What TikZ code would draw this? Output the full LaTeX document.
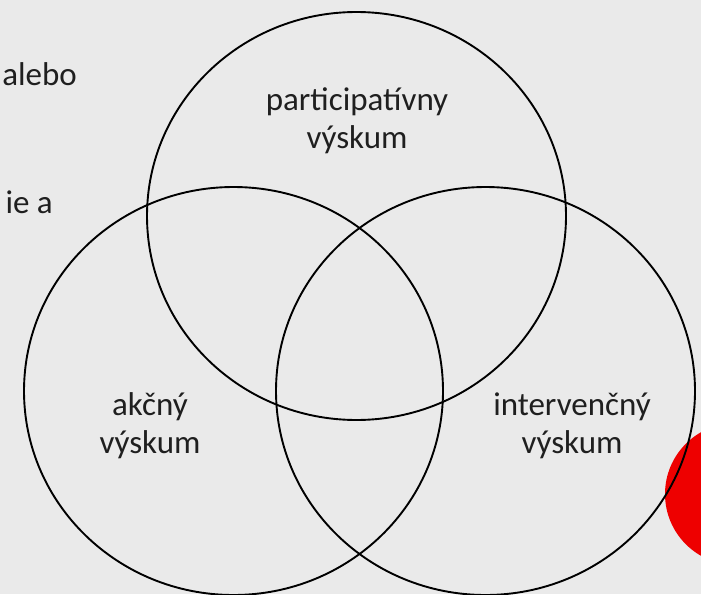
\documentclass[tikz,border=0pt]{standalone}
\usepackage{fontspec}
\setmainfont{Carlito}
\usetikzlibrary{shapes.geometric}
\definecolor{slidered}{RGB}{238,0,0}
\definecolor{concrete}{RGB}{234,234,234}
\begin{document}
\begin{tikzpicture}[x=1pt, y=-1pt,
    venn/.style={ellipse, draw=black, line width=1.9pt, minimum width=419pt, minimum height=408pt, inner sep=0pt},
    lbl/.style={font=\fontsize{33}{38}\selectfont, text=black!88, align=center, inner sep=0pt, anchor=base}]
    \useasboundingbox (0,0) rectangle (701,594);
    \fill[concrete] (0,0) rectangle (701,594);
    \clip (0,0) rectangle (701,594);
    % text of the slide, cut off at the left edge
    \node[lbl, anchor=base east] (alebo) at (77,85) {alebo};
    \node[lbl, anchor=base east] (iea) at (53,213) {ie a};
    % red spot behind the right circle
    \node[circle, fill=slidered, minimum size=142pt, inner sep=0pt] (spot) at (736,494) {};
    % the three circles
    \node[venn] (participativny) at (356.5,216) {};
    \node[venn] (akcny) at (233.5,391) {};
    \node[venn] (intervencny) at (485.5,391) {};
    % labels (base = last line)
    \node[lbl] (partlbl) at (357,148) {participatívny\\výskum};
    \node[lbl] (akclbl) at (150,453) {akčný\\výskum};
    \node[lbl] (intlbl) at (572,453) {intervenčný\\výskum};
\end{tikzpicture}
\end{document}
